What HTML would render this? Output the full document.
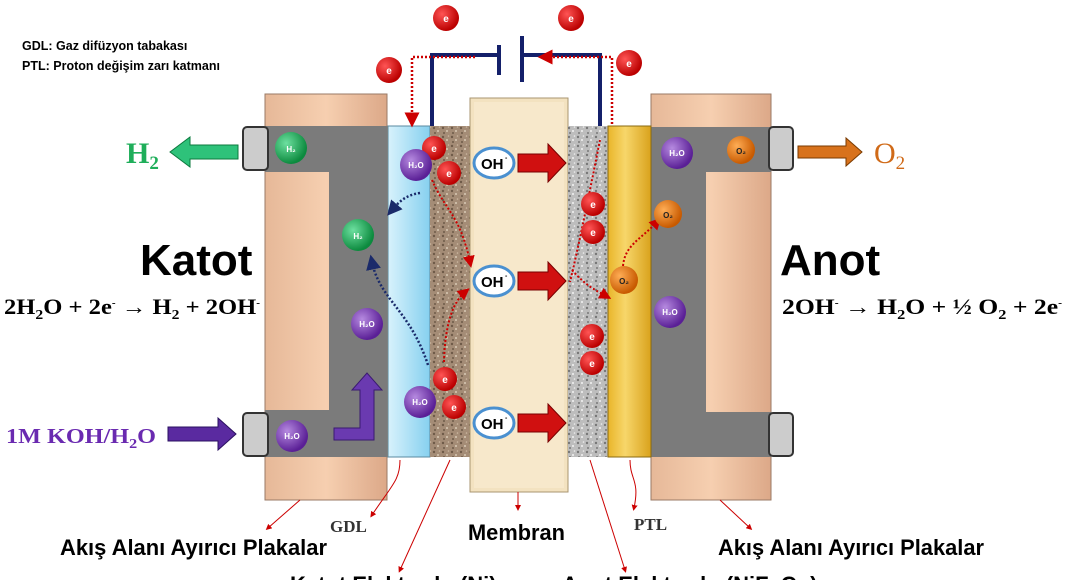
<!DOCTYPE html>
<html><head><meta charset="utf-8"><style>
html,body{margin:0;padding:0;background:#fff;width:1068px;height:580px;overflow:hidden}
svg{display:block}
.b{font-family:"Liberation Sans",sans-serif;font-weight:bold}
.s{font-family:"Liberation Serif",serif}
</style></head><body>
<svg width="1068" height="580" viewBox="0 0 1068 580" xmlns="http://www.w3.org/2000/svg">
<defs>
<pattern id="pb" width="9" height="9" patternUnits="userSpaceOnUse"><rect width="9" height="9" fill="#a48c76"/><circle cx="2" cy="2" r="1.2" fill="#6e5a48"/><circle cx="6" cy="5" r="1" fill="#d8c8b4"/><circle cx="3" cy="7" r="0.9" fill="#5e4c3c"/><circle cx="7.5" cy="1" r="0.8" fill="#ccb8a0"/></pattern>
<pattern id="pg" width="9" height="9" patternUnits="userSpaceOnUse"><rect width="9" height="9" fill="#bdbdbd"/><circle cx="2" cy="2" r="1.2" fill="#777"/><circle cx="6" cy="5" r="1" fill="#f2f2f2"/><circle cx="3" cy="7" r="0.9" fill="#666"/><circle cx="7.5" cy="1" r="0.8" fill="#eee"/></pattern>
<radialGradient id="red" cx="35%" cy="35%" r="65%"><stop offset="0" stop-color="#f55"/><stop offset="1" stop-color="#b00"/></radialGradient>
<radialGradient id="pur" cx="35%" cy="35%" r="65%"><stop offset="0" stop-color="#b68ae0"/><stop offset="1" stop-color="#5a1f96"/></radialGradient>
<radialGradient id="grn" cx="35%" cy="35%" r="65%"><stop offset="0" stop-color="#6de0a0"/><stop offset="1" stop-color="#0c8a3e"/></radialGradient>
<radialGradient id="org" cx="35%" cy="35%" r="65%"><stop offset="0" stop-color="#ffad55"/><stop offset="1" stop-color="#c85a00"/></radialGradient>
<linearGradient id="tan" x1="0" x2="1"><stop offset="0" stop-color="#e6b898"/><stop offset=".5" stop-color="#f6cfb0"/><stop offset="1" stop-color="#dca888"/></linearGradient>
<linearGradient id="gdl" x1="0" x2="1"><stop offset="0" stop-color="#d8f2fc"/><stop offset="1" stop-color="#86d0ef"/></linearGradient>
<linearGradient id="ptl" x1="0" x2="1"><stop offset="0" stop-color="#e9b52a"/><stop offset=".4" stop-color="#f7d66a"/><stop offset="1" stop-color="#d9a21c"/></linearGradient>
<marker id="ra" markerWidth="6" markerHeight="6" refX="3" refY="3" orient="auto"><path d="M0,0L6,3L0,6z" fill="#c00"/></marker>
<marker id="ba" markerWidth="6" markerHeight="6" refX="3" refY="3" orient="auto"><path d="M0,0L6,3L0,6z" fill="#1a2a6a"/></marker>
</defs>

<text class="b" x="22" y="50" font-size="12.5">GDL: Gaz difüzyon tabakası</text>
<text class="b" x="22" y="70" font-size="12.5">PTL: Proton değişim zarı katmanı</text>

<rect x="265" y="94" width="122" height="406" fill="url(#tan)" stroke="#9a7a66"/>
<path d="M265,126H387V457H265V410H329V172H265z" fill="#7b7b7b"/>
<rect x="243" y="127" width="25" height="43" rx="4" fill="#ccc" stroke="#333" stroke-width="2"/>
<rect x="243" y="413" width="25" height="43" rx="4" fill="#ccc" stroke="#333" stroke-width="2"/>
<rect x="651" y="94" width="120" height="406" fill="url(#tan)" stroke="#9a7a66"/>
<path d="M651,127H771V172H706V412H771V457H651z" fill="#7b7b7b"/>
<rect x="769" y="127" width="24" height="43" rx="4" fill="#ccc" stroke="#333" stroke-width="2"/>
<rect x="769" y="413" width="24" height="43" rx="4" fill="#ccc" stroke="#333" stroke-width="2"/>

<rect x="388" y="126" width="42" height="331" fill="url(#gdl)" stroke="#5a8aa0"/>
<rect x="430" y="126" width="40" height="331" fill="url(#pb)"/>
<rect x="470" y="98" width="98" height="394" fill="#f3e2c0" stroke="#a99670"/>
<rect x="474" y="102" width="90" height="386" fill="#f7e8cb"/>
<rect x="568" y="126" width="40" height="331" fill="url(#pg)"/>
<rect x="608" y="126" width="43" height="331" fill="url(#ptl)" stroke="#8a6a10"/>

<path d="M432,126V55H499M522,55H600V126" fill="none" stroke="#14206a" stroke-width="4"/>
<line x1="499" y1="45" x2="499" y2="75" stroke="#14206a" stroke-width="4"/>
<line x1="522" y1="36" x2="522" y2="82" stroke="#14206a" stroke-width="4"/>
<path d="M475,57H412V120" fill="none" stroke="#c00" stroke-width="2.5" stroke-dasharray="2,2" marker-end="url(#ra)"/>
<path d="M612,124V57H545" fill="none" stroke="#c00" stroke-width="2.5" stroke-dasharray="2,2" marker-end="url(#ra)"/>

<g fill="none" stroke="#c00" stroke-width="2" stroke-dasharray="2,2">
<path d="M432,180C445,210 460,215 470,262" marker-end="url(#ra)"/>
<path d="M444,362C445,320 455,300 465,292" marker-end="url(#ra)"/>
<path d="M600,140C590,190 580,240 570,282"/>
<path d="M572,270C585,285 595,290 606,296" marker-end="url(#ra)"/>
<path d="M623,266C625,245 640,240 657,222" marker-end="url(#ra)"/>
</g>
<g fill="none" stroke="#1a2a6a" stroke-width="2.5" stroke-dasharray="2,2">
<path d="M420,193C405,195 398,203 392,210" marker-end="url(#ba)"/>
<path d="M428,365C410,310 380,300 372,262" marker-end="url(#ba)"/>
</g>

<g font-family="Liberation Sans,sans-serif" font-weight="bold">
<g><ellipse cx="494" cy="163" rx="20" ry="15" fill="#fff" stroke="#4a90d0" stroke-width="3"/><text x="481" y="169" font-size="15">OH</text><text x="505" y="160" font-size="7">-</text>
<path d="M518,154H548V144L566,163L548,182V172H518z" fill="#d01010" stroke="#700"/></g>
<g><ellipse cx="494" cy="281" rx="20" ry="15" fill="#fff" stroke="#4a90d0" stroke-width="3"/><text x="481" y="287" font-size="15">OH</text><text x="505" y="278" font-size="7">-</text>
<path d="M518,272H548V262L566,281L548,300V290H518z" fill="#d01010" stroke="#700"/></g>
<g><ellipse cx="494" cy="423" rx="20" ry="15" fill="#fff" stroke="#4a90d0" stroke-width="3"/><text x="481" y="429" font-size="15">OH</text><text x="505" y="420" font-size="7">-</text>
<path d="M518,414H548V404L566,423L548,442V432H518z" fill="#d01010" stroke="#700"/></g>
</g>

<g font-family="Liberation Sans,sans-serif" font-weight="bold" fill="#fff" text-anchor="middle">
<g font-size="10">
<circle cx="446" cy="18" r="13" fill="url(#red)"/><text x="446" y="22">e</text>
<circle cx="571" cy="18" r="13" fill="url(#red)"/><text x="571" y="22">e</text>
<circle cx="389" cy="70" r="13" fill="url(#red)"/><text x="389" y="74">e</text>
<circle cx="629" cy="63" r="13" fill="url(#red)"/><text x="629" y="67">e</text>
<circle cx="434" cy="148" r="12" fill="url(#red)"/><text x="434" y="152">e</text>
<circle cx="449" cy="173" r="12" fill="url(#red)"/><text x="449" y="177">e</text>
<circle cx="445" cy="379" r="12" fill="url(#red)"/><text x="445" y="383">e</text>
<circle cx="454" cy="407" r="12" fill="url(#red)"/><text x="454" y="411">e</text>
<circle cx="593" cy="204" r="12" fill="url(#red)"/><text x="593" y="208">e</text>
<circle cx="593" cy="232" r="12" fill="url(#red)"/><text x="593" y="236">e</text>
<circle cx="592" cy="336" r="12" fill="url(#red)"/><text x="592" y="340">e</text>
<circle cx="592" cy="363" r="12" fill="url(#red)"/><text x="592" y="367">e</text>
</g>
<g font-size="8">
<circle cx="416" cy="165" r="16" fill="url(#pur)"/><text x="416" y="168">H₂O</text>
<circle cx="420" cy="402" r="16" fill="url(#pur)"/><text x="420" y="405">H₂O</text>
<circle cx="367" cy="324" r="16" fill="url(#pur)"/><text x="367" y="327">H₂O</text>
<circle cx="292" cy="436" r="16" fill="url(#pur)"/><text x="292" y="439">H₂O</text>
<circle cx="677" cy="153" r="16" fill="url(#pur)"/><text x="677" y="156">H₂O</text>
<circle cx="670" cy="312" r="16" fill="url(#pur)"/><text x="670" y="315">H₂O</text>
<circle cx="291" cy="148" r="16" fill="url(#grn)"/><text x="291" y="152">H₂</text>
<circle cx="358" cy="235" r="16" fill="url(#grn)"/><text x="358" y="239">H₂</text>
<circle cx="741" cy="150" r="14" fill="url(#org)"/><text x="741" y="154" fill="#222">O₂</text>
<circle cx="668" cy="214" r="14" fill="url(#org)"/><text x="668" y="218" fill="#222">O₂</text>
<circle cx="624" cy="280" r="14" fill="url(#org)"/><text x="624" y="284" fill="#222">O₂</text>
</g>
</g>

<path d="M334,440V428H360V390H352L367,373L382,390H374V440z" fill="#6a3ab0" stroke="#3a1a70"/>

<path d="M238,145H190V137L170,152L190,167V159H238z" fill="#2ec27a" stroke="#0c7a3e"/>
<text class="s" x="126" y="163" font-size="30" font-weight="bold" fill="#1fae5a">H<tspan font-size="19" dy="6">2</tspan></text>
<path d="M798,146H846V138L862,152L846,166V158H798z" fill="#d8721c" stroke="#7a3a00"/>
<text class="s" x="874" y="163" font-size="30" fill="#d06a18">O<tspan font-size="19" dy="6">2</tspan></text>
<path d="M168,427H218V418L236,434L218,450V441H168z" fill="#5a2aa0" stroke="#2a1060"/>
<text class="s" x="6" y="443" font-size="21" font-weight="bold" fill="#6a2ab0" textLength="150" lengthAdjust="spacingAndGlyphs">1M KOH/H<tspan font-size="14" dy="5">2</tspan><tspan dy="-5">O</tspan></text>

<text class="b" x="140" y="275" font-size="44">Katot</text>
<text class="b" x="780" y="275" font-size="44">Anot</text>
<text class="s" x="4" y="314" font-size="22" font-weight="bold" textLength="256" lengthAdjust="spacingAndGlyphs">2H<tspan font-size="14" dy="5">2</tspan><tspan dy="-5">O + 2e</tspan><tspan font-size="10" dy="-8">-</tspan><tspan dy="8"> → H</tspan><tspan font-size="14" dy="5">2</tspan><tspan dy="-5"> + 2OH</tspan><tspan font-size="10" dy="-8">-</tspan></text>
<text class="s" x="782" y="314" font-size="22" font-weight="bold" textLength="280" lengthAdjust="spacingAndGlyphs">2OH<tspan font-size="10" dy="-8">-</tspan><tspan dy="8"> → H</tspan><tspan font-size="14" dy="5">2</tspan><tspan dy="-5">O  + ½ O</tspan><tspan font-size="14" dy="5">2</tspan><tspan dy="-5"> + 2e</tspan><tspan font-size="10" dy="-8">-</tspan></text>

<g fill="none" stroke="#c00" stroke-width="1" marker-end="url(#ra)">
<path d="M300,500L268,528"/>
<path d="M400,460C400,480 392,485 372,515"/>
<path d="M450,460L400,570"/>
<path d="M518,492V508"/>
<path d="M590,460L625,570"/>
<path d="M630,460C630,480 640,480 634,508"/>
<path d="M720,500L750,528"/>
</g>
<text class="s" x="330" y="532" font-size="17" font-weight="bold" fill="#333">GDL</text>
<text class="s" x="634" y="530" font-size="17" font-weight="bold" fill="#333">PTL</text>
<text class="b" x="468" y="540" font-size="22" textLength="97" lengthAdjust="spacingAndGlyphs">Membran</text>
<text class="b" x="60" y="555" font-size="22" textLength="267" lengthAdjust="spacingAndGlyphs">Akış Alanı Ayırıcı Plakalar</text>
<text class="b" x="718" y="555" font-size="22" textLength="266" lengthAdjust="spacingAndGlyphs">Akış Alanı Ayırıcı Plakalar</text>
<text class="b" x="290" y="592" font-size="22">Katot Elektrodu (Ni)</text>
<text class="b" x="562" y="592" font-size="22">Anot Elektrodu (NiFeCo)</text>
</svg>
</body></html>
